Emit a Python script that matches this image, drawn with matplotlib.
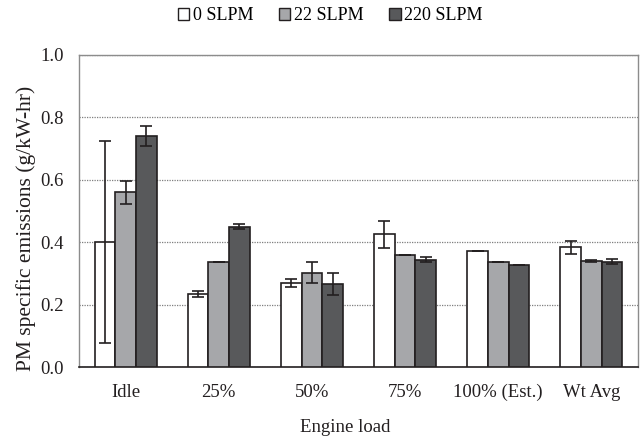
import matplotlib
matplotlib.use("Agg")
import matplotlib.pyplot as plt
import numpy as np
from matplotlib.patches import Patch

plt.rcParams['font.family'] = ['Liberation Serif', 'DejaVu Serif']

categories = ["Idle", "25%", "50%", "75%", "100% (Est.)", "Wt Avg"]
series = ["0 SLPM", "22 SLPM", "220 SLPM"]
v0 = [0.400, 0.233, 0.270, 0.425, 0.371, 0.384]
v22 = [0.560, 0.338, 0.302, 0.358, 0.338, 0.341]
v220 = [0.740, 0.450, 0.267, 0.344, 0.328, 0.337]
e0 = [0.324, 0.009, 0.012, 0.043, 0.0, 0.021]
e22 = [0.036, 0.0, 0.033, 0.0, 0.0, 0.003]
e220 = [0.032, 0.008, 0.035, 0.007, 0.0, 0.008]

colors = ["#FFFFFF", "#A6A7AA", "#58595B"]
edge = "#231F20"

fig = plt.figure(figsize=(6.41, 4.41), dpi=100)
ax = fig.add_axes([0.1232, 0.1678, 0.8722, 0.7075])

x = np.arange(len(categories))
w = 0.222
for i, (vals, errs, c) in enumerate(zip([v0, v22, v220], [e0, e22, e220], colors)):
    ax.bar(x + (i - 1) * w, vals, w, color=c, edgecolor=edge, linewidth=1.2, zorder=3,
           yerr=errs, error_kw=dict(ecolor=edge, elinewidth=1.2, capsize=4, capthick=1.2, zorder=4))

ax.set_xlim(-0.5, len(categories) - 0.5)
ax.set_ylim(0, 1.0)
ax.set_yticks(np.arange(0, 1.01, 0.2))
ax.set_yticklabels([f"{t:.1f}" for t in np.arange(0, 1.01, 0.2)])
ax.set_xticks(x)
ax.set_xticklabels(categories)
ax.tick_params(axis='both', length=0, labelsize=13.5, colors='#231F20')
ax.tick_params(axis='y', pad=11)
ax.tick_params(axis='x', pad=12)
ax.yaxis.grid(True, linestyle=(0, (1, 1)), color='#7f7f7f', linewidth=0.9, zorder=0)
for s in ['top', 'right', 'left']:
    ax.spines[s].set_color('#8c8c8c')
    ax.spines[s].set_linewidth(1.0)
ax.spines['bottom'].set_color('#231F20')
ax.spines['bottom'].set_linewidth(1.2)

fig.text(26 / 641, 0.482, "PM specific emissions (g/kW-hr)", rotation=90, ha='center', va='center',
         fontsize=15.5, color='#231F20')
fig.text(0.539, 0.031, "Engine load", ha='center', va='center', fontsize=13.5, color='#231F20')

handles = [Patch(facecolor=c, edgecolor=edge, linewidth=1.0) for c in colors]
fig.legend(handles, series, loc='center', bbox_to_anchor=(0.515, 0.965), ncol=3, frameon=False,
           fontsize=13, handlelength=0.65, handleheight=0.65, handletextpad=0.2, columnspacing=1.4)

fig.savefig("out.png", dpi=100)
